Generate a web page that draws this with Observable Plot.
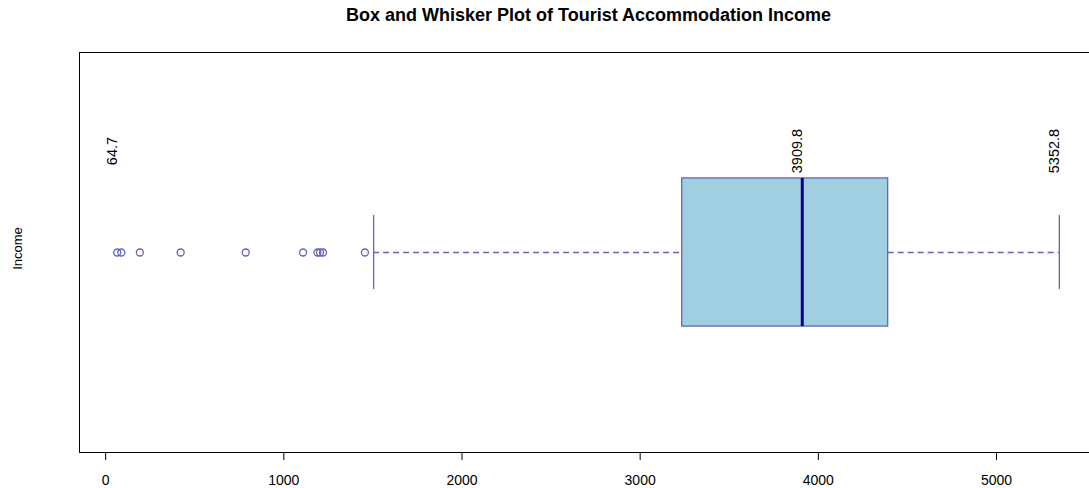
<!DOCTYPE html>
<html>
<head>
<meta charset="utf-8">
<script src="https://cdn.jsdelivr.net/npm/d3@7"></script>
<script src="https://cdn.jsdelivr.net/npm/@observablehq/plot@0.6"></script>
<style>
  html, body { margin: 0; padding: 0; background: #fff; }
  #chart { width: 1089px; height: 488px; overflow: hidden; }
</style>
</head>
<body>
<div id="chart"></div>
<script>
// ---- Data ----
const chartTitle = "Box and Whisker Plot of Tourist Accommodation Income";
const yLabel = "Income";
// five-number summary: lower whisker, Q1, median, Q3, upper whisker
const statNames = ["lowerWhisker", "q1", "median", "q3", "upperWhisker"];
const statValues = [1504, 3236, 3909.8, 4392, 5352.8];
const outliers = [64.7, 88, 192, 421, 786, 1108, 1189, 1203, 1220, 1455];
const labelValues = [64.7, 3909.8, 5352.8];
const xTicks = [0, 1000, 2000, 3000, 4000, 5000];

const s = Object.fromEntries(statNames.map((n, i) => [n, statValues[i]]));

// ---- Layout / style ----
const border = "#6464b8";
const medianColor = "#00008b";
const boxFill = "#9fcfe1";
const xDomain = [-146.8, 5522];
const yDomain = [0.46, 1.54];
const center = 1, boxHalf = 0.2, stapleHalf = 0.1, labelY = 1.274;

const chart = Plot.plot({
  width: 1089,
  height: 488,
  marginLeft: 79,
  marginRight: 0,
  marginTop: 52,
  marginBottom: 36,
  style: { fontFamily: "'Liberation Sans', Arial, sans-serif", fontSize: "14px", background: "#fff", color: "#000" },
  x: { domain: xDomain, axis: null },
  y: { domain: yDomain, axis: null },
  marks: [
    // frame (left, top, bottom; right edge is cropped)
    Plot.ruleY(yDomain, { stroke: "#000", strokeWidth: 1 }),
    Plot.ruleX([xDomain[0]], { stroke: "#000", strokeWidth: 1 }),
    Plot.axisX({ ticks: xTicks, tickSize: 8, tickPadding: 15, tickFormat: d => String(d), fontSize: 14, stroke: "#000", anchor: "bottom" }),
    // whiskers (dashed)
    Plot.ruleY([[s.lowerWhisker, s.q1], [s.q3, s.upperWhisker]], {
      x1: d => d[0], x2: d => d[1], y: center,
      stroke: border, strokeWidth: 1.3, strokeDasharray: "6,4"
    }),
    // staples
    Plot.ruleX([s.lowerWhisker, s.upperWhisker], {
      x: d => d, y1: center - stapleHalf, y2: center + stapleHalf,
      stroke: border, strokeWidth: 1.3
    }),
    // box
    Plot.rect([s], {
      x1: d => d.q1, x2: d => d.q3, y1: center - boxHalf, y2: center + boxHalf,
      fill: boxFill, stroke: border, strokeWidth: 1.3
    }),
    // median
    Plot.ruleX([s.median], {
      x: d => d, y1: center - boxHalf, y2: center + boxHalf,
      stroke: medianColor, strokeWidth: 3
    }),
    // outliers
    Plot.dot(outliers, {
      x: d => d, y: center, r: 3.5, stroke: border, strokeWidth: 1.3, fill: "none"
    }),
    // value labels
    Plot.text(labelValues, {
      x: d => d, y: labelY, text: d => d.toFixed(1), rotate: -90,
      dx: -5, fontSize: 14.5, fill: "#000", textAnchor: "middle"
    }),
    // title
    Plot.text([chartTitle], {
      frameAnchor: "top", dy: -37, dx: 4, fontSize: 18, fontWeight: "bold", fill: "#000",
      textAnchor: "middle", lineAnchor: "middle"
    }),
    // y label
    Plot.text([yLabel], {
      frameAnchor: "left", dx: -62, dy: -4, rotate: -90, fontSize: 13, fill: "#000",
      textAnchor: "middle", lineAnchor: "middle"
    })
  ]
});

document.getElementById("chart").appendChild(chart);
</script>
</body>
</html>
